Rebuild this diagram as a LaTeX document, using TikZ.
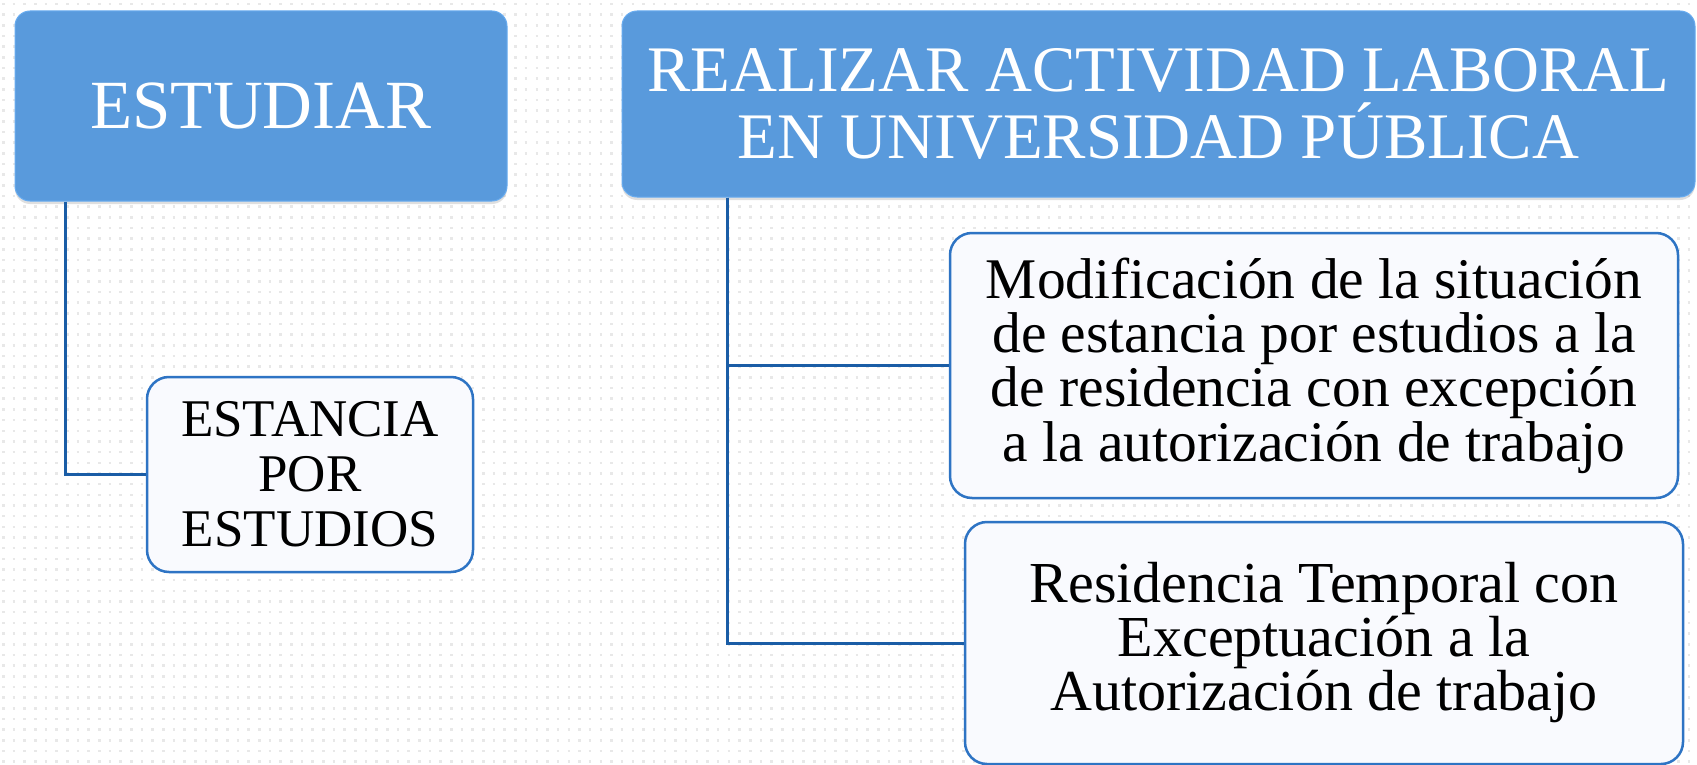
\documentclass[tikz,border=0pt]{standalone}
\usepackage{fontspec}
\setmainfont{Liberation Serif}
\usetikzlibrary{shadows}
\definecolor{bluefill}{RGB}{89,154,220}
\definecolor{bluerim}{RGB}{104,172,240}
\definecolor{boxline}{RGB}{46,116,196}
\definecolor{boxfill}{RGB}{249,250,254}
\definecolor{linkcol}{RGB}{26,93,166}
\definecolor{dotcol}{RGB}{232,232,232}
\tikzset{
  bluebox/.style={draw=bluerim, line width=1pt, fill=bluefill, rounded corners=15pt,
    text=white, align=center, inner sep=0pt,
    drop shadow={opacity=0.25, shadow xshift=0pt, shadow yshift=-3pt}},
  whitebox/.style={draw=boxline, line width=2.5pt, fill=boxfill, rounded corners=22pt,
    text=black, align=center, inner sep=0pt},
  link/.style={draw=linkcol, line width=3pt}
}
\begin{document}
\begin{tikzpicture}[x=1pt, y=-1pt]
\useasboundingbox (0,0) rectangle (1697,765);
\clip (0,0) rectangle (1697,765);
\fill[white] (0,0) rectangle (1697,765);
\foreach \i in {0,...,71}
  \draw[dotcol, line width=2.6pt, dash pattern=on 2.6pt off 8.07pt] (2,{\i*10.67+4}) -- (1697,{\i*10.67+4});

\node[bluebox, minimum width=492pt, minimum height=190pt, font=\fontsize{69}{72}\selectfont]
  (est) at (261,106) {ESTUDIAR};
\node[bluebox, minimum width=1073pt, minimum height=186pt, font=\fontsize{65}{67}\selectfont]
  (real) at (1158.5,104) {REALIZAR ACTIVIDAD LABORAL\\EN UNIVERSIDAD PÚBLICA};

\node[whitebox, minimum width=326pt, minimum height=195pt, font=\fontsize{53}{55}\selectfont]
  (estan) at (310,474.5) {ESTANCIA\\POR\\ESTUDIOS};
\node[whitebox, minimum width=728pt, minimum height=265pt, font=\fontsize{57.5}{54.3}\selectfont]
  (mod) at (1314,365.5) {Modificación de la situación\\de estancia por estudios a la\\de residencia con excepción\\a la autorización de trabajo};
\node[whitebox, minimum width=718pt, minimum height=242pt, font=\fontsize{58}{54}\selectfont]
  (res) at (1324,643) {Residencia Temporal con\\Exceptuación a la\\Autorización de trabajo};

\coordinate (ax) at (65,0);
\coordinate (bx) at (727,0);
\draw[link] (est.south -| ax) |- (estan.west);
\draw[link] (real.south -| bx) |- (mod.west);
\draw[link] (real.south -| bx) |- (res.west);
\end{tikzpicture}
\end{document}
